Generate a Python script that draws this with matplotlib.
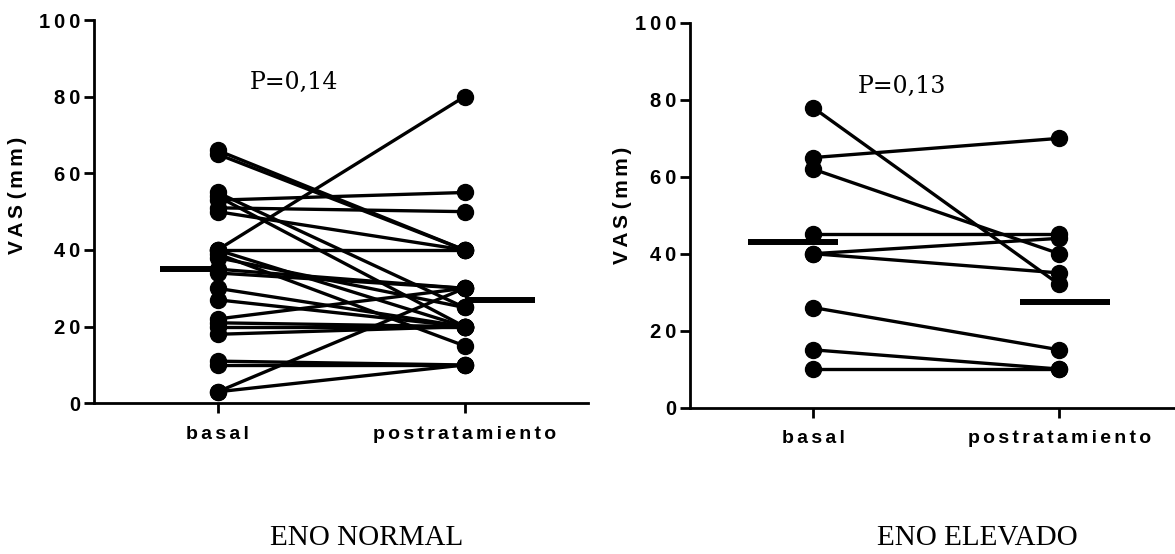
import matplotlib
matplotlib.use("Agg")
import matplotlib.pyplot as plt

# ---- data ----
categories = ["basal", "postratamiento"]
yticks = [0, 20, 40, 60, 80, 100]

normal_basal = [66, 65, 55, 54, 53, 51, 50, 40, 40, 40, 39, 38, 35, 34, 30, 27, 22, 21, 20, 18, 11, 10, 3, 3]
normal_post = [40, 40, 25, 20, 55, 50, 40, 80, 40, 20, 15, 25, 30, 30, 20, 20, 30, 20, 20, 20, 10, 10, 30, 10]
normal_lines = [35, 27]
normal_p = "P=0,14"

elev_basal = [78, 65, 62, 45, 40, 40, 26, 15, 10]
elev_post = [32, 70, 40, 45, 44, 35, 15, 10, 10]
elev_lines = [43, 27.5]
elev_p = "P=0,13"

captions = ["ENO NORMAL", "ENO ELEVADO"]
ylabel = "VAS (mm)"

W, H = 1175, 554
fig = plt.figure(figsize=(W / 100, H / 100), dpi=100)

THIN = "\u2009"
HAIR = "\u200a"

def spaced(s, sep=THIN):
    return sep.join(s)

sans = ["Liberation Sans", "DejaVu Sans"]
num_font = dict(family=sans, weight="bold", size=14.5)
cat_font = dict(family=sans, weight="bold", size=14)

def setup(ax, xmax):
    ax.set_xlim(-0.5, xmax)
    ax.set_ylim(0, 100)
    for s in ["top", "right"]:
        ax.spines[s].set_visible(False)
    for s in ["left", "bottom"]:
        ax.spines[s].set_linewidth(2.0)
    ax.set_yticks(yticks)
    ax.set_yticklabels([spaced(str(v), THIN) for v in yticks], fontdict=num_font)
    ax.set_xticks([0, 1])
    ax.set_xticklabels([spaced(c, HAIR + HAIR) for c in categories], fontdict=cat_font)
    ax.tick_params(axis="y", length=7, width=2.0, pad=3)
    ax.tick_params(axis="x", length=7, width=2.0, pad=9)
    ax.patch.set_alpha(0)

def draw(ax, basal, post, lines, ptxt, pos_b, pos_p, ptext_xy):
    for b, p in zip(basal, post):
        ax.plot([0, 1], [b, p], color="black", lw=2.4, marker="o", ms=11.5,
                clip_on=False, zorder=3)
    ax.plot(pos_b, [lines[0]] * 2, color="black", lw=4.3, solid_capstyle="butt", zorder=4)
    ax.plot(pos_p, [lines[1]] * 2, color="black", lw=4.3, solid_capstyle="butt", zorder=4)
    ax.text(ptext_xy[0], ptext_xy[1], ptxt, family="DejaVu Serif", size=17,
            ha="center", va="center")

ax1 = fig.add_axes([94 / W, (H - 403.3) / H, (588 - 94) / W, (403.3 - 20) / H])
setup(ax1, 1.5)
draw(ax1, normal_basal, normal_post, normal_lines, normal_p,
     [-0.234, 0.027], [1.0, 1.284], (0.31, 83.6))

ax2 = fig.add_axes([690 / W, (H - 407.5) / H, (W - 690) / W, (407.5 - 23) / H])
setup(ax2, 1.47)
draw(ax2, elev_basal, elev_post, elev_lines, elev_p,
     [-0.264, 0.102], [0.84, 1.206], (0.36, 83.6))

lab_font = dict(family=sans, weight="bold", size=15)
lab = spaced("VAS", HAIR + HAIR) + " " + spaced("(mm)", HAIR + HAIR)
fig.text(18 / W, 1 - 195 / H, lab, rotation=90, ha="center", va="center", **lab_font)
fig.text(622 / W, 1 - 205 / H, lab, rotation=90, ha="center", va="center", **lab_font)

fig.text(367 / W, 1 - 538 / H, captions[0], family="Liberation Serif", size=21,
         ha="center", va="center")
fig.text(977 / W, 1 - 538 / H, captions[1], family="Liberation Serif", size=21,
         ha="center", va="center")

fig.savefig("out.png", dpi=100)
